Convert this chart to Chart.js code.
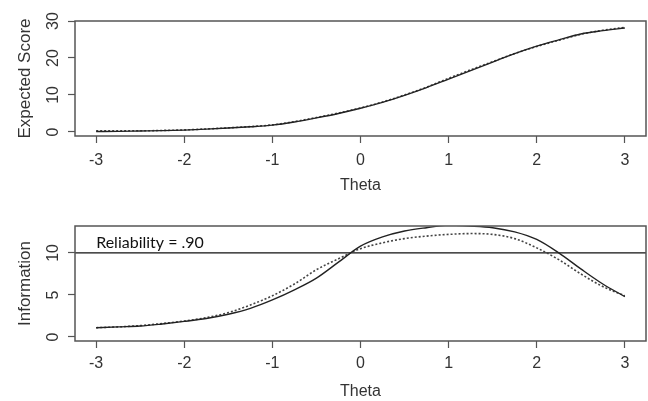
<!DOCTYPE html>
<html>
<head>
<meta charset="utf-8">
<script src="https://cdn.jsdelivr.net/npm/chart.js@4/dist/chart.umd.min.js"></script>
<style>
    html, body { margin: 0; padding: 0; background: #fff; }
    .panel { position: absolute; left: 0; width: 648px; }
    #top { top: 0; height: 200px; }
    #bottom { top: 200px; height: 201px; }
</style>
</head>
<body>
<div class="panel" id="top"><canvas id="scoreChart"></canvas></div>
<div class="panel" id="bottom"><canvas id="infoChart"></canvas></div>
<script>
// theta grid shared by the curves
const theta = [-3, -2.75, -2.5, -2.25, -2, -1.75, -1.5, -1.25, -1, -0.75, -0.5, -0.25, 0,
    0.25, 0.5, 0.75, 1, 1.25, 1.5, 1.75, 2, 2.25, 2.5, 2.75, 3];

// top panel: expected score (solid) and observed score (dotted)
const expectedScore = [0.1, 0.15, 0.25, 0.35, 0.5, 0.75, 1.05, 1.4, 1.85, 2.7, 3.8, 5.0, 6.4,
    8.0, 9.9, 12.0, 14.3, 16.6, 18.9, 21.2, 23.2, 24.9, 26.5, 27.4, 28.1];
const observedScore = [0.3, 0.3, 0.3, 0.4, 0.55, 0.8, 1.1, 1.45, 1.9, 2.8, 3.9, 5.1, 6.5,
    8.1, 10.0, 12.1, 14.5, 16.8, 19.0, 21.2, 23.1, 24.8, 26.4, 27.5, 28.3];

// bottom panel: information curves
const infoSolid = [1.1, 1.2, 1.3, 1.55, 1.85, 2.2, 2.7, 3.4, 4.4, 5.6, 7.0, 8.9, 10.8,
    11.9, 12.6, 13.0, 13.3, 13.2, 13.0, 12.5, 11.6, 10.0, 8.1, 6.3, 4.8];
const infoDotted = [1.1, 1.2, 1.35, 1.6, 1.9, 2.3, 2.9, 3.8, 4.9, 6.3, 8.0, 9.3, 10.5,
    11.2, 11.7, 12.0, 12.2, 12.3, 12.2, 11.7, 10.6, 9.2, 7.5, 6.0, 4.9];

const reliabilityLevel = 10;
const reliabilityText = "Reliability = .90";

const xTicks = [-3, -2, -1, 0, 1, 2, 3];
const scoreTicks = [0, 10, 20, 30];
const infoTicks = [0, 5, 10];
const xRange = [-3.24, 3.24];

const FONT = '"Liberation Sans", Arial, sans-serif';
const INK = "#333";

function points(ys) {
    return theta.map((t, i) => ({ x: t, y: ys[i] }));
}

// R-style frame, rotated y labels and an optional note inside the plot
const rFrame = {
    id: "rFrame",
    afterDraw(chart, args, opts) {
        const { ctx, chartArea: a, scales } = chart;
        ctx.save();
        ctx.strokeStyle = "#555";
        ctx.lineWidth = 1.5;
        ctx.strokeRect(a.left, a.top, a.right - a.left, a.bottom - a.top);

        ctx.fillStyle = INK;
        ctx.font = "16px " + FONT;
        ctx.textAlign = "center";
        ctx.textBaseline = "middle";
        scales.y.ticks.forEach((t) => {
            const y = scales.y.getPixelForValue(t.value);
            ctx.save();
            ctx.translate(a.left - 21, y);
            ctx.rotate(-Math.PI / 2);
            ctx.fillText(String(t.value), 0, 0);
            ctx.restore();
        });

        if (opts.note) {
            ctx.fillStyle = "#111";
            ctx.font = '16px Lato, "Open Sans", sans-serif';
            ctx.textAlign = "left";
            ctx.fillText(opts.note.text, scales.x.getPixelForValue(opts.note.x), scales.y.getPixelForValue(opts.note.y));
        }
        ctx.restore();
    },
};

function xAxis(titlePad, height, tickPad) {
    return {
        type: "linear",
        min: xRange[0],
        max: xRange[1],
        afterBuildTicks: (s) => { s.ticks = xTicks.map((v) => ({ value: v })); },
        afterFit: (s) => { s.height = height; },
        grid: { drawOnChartArea: false, tickLength: 7, tickColor: "#555", tickWidth: 1.2 },
        border: { display: false },
        ticks: { color: INK, font: { family: FONT, size: 16 }, padding: tickPad, maxRotation: 0 },
        title: {
            display: true,
            text: "Theta",
            color: INK,
            font: { family: FONT, size: 16 },
            padding: { top: 0, bottom: titlePad },
        },
    };
}

function yAxis(label, min, max, tickValues) {
    return {
        min: min,
        max: max,
        afterBuildTicks: (s) => { s.ticks = tickValues.map((v) => ({ value: v })); },
        afterFit: (s) => { s.width = 75; },
        grid: { drawOnChartArea: false, tickLength: 7, tickColor: "#555", tickWidth: 1.2 },
        border: { display: false },
        ticks: { display: false },
        title: {
            display: true,
            text: label,
            color: INK,
            font: { family: FONT, size: 17 },
            padding: { top: 15, bottom: 0 },
        },
    };
}

function lineSet(ys, dotted) {
    return {
        data: points(ys),
        borderColor: dotted ? "#444" : "#222",
        borderWidth: dotted ? 1.6 : 1.4,
        borderDash: dotted ? [2, 2] : [],
        pointRadius: 0,
        cubicInterpolationMode: "monotone",
        fill: false,
    };
}

function baseOptions(padTop, x, y, note) {
    return {
        responsive: true,
        maintainAspectRatio: false,
        animation: false,
        layout: { padding: { top: padTop, right: 2, left: 0, bottom: 0 } },
        plugins: { legend: { display: false }, tooltip: { enabled: false }, rFrame: { note: note } },
        scales: { x: x, y: y },
    };
}

new Chart(document.getElementById("scoreChart"), {
    type: "line",
    data: { datasets: [lineSet(expectedScore, false), lineSet(observedScore, true)] },
    options: baseOptions(21, xAxis(5, 64, 8), yAxis("Expected Score", -1.1, 30, scoreTicks), null),
    plugins: [rFrame],
});

new Chart(document.getElementById("infoChart"), {
    type: "line",
    data: {
        datasets: [
            lineSet(infoSolid, false),
            lineSet(infoDotted, true),
            {
                data: [{ x: xRange[0], y: reliabilityLevel }, { x: xRange[1], y: reliabilityLevel }],
                borderColor: "#111",
                borderWidth: 1.2,
                pointRadius: 0,
            },
        ],
    },
    options: baseOptions(26, xAxis(0, 60, 6), yAxis("Information", -0.48, 13.2, infoTicks),
        { text: reliabilityText, x: -3, y: 11.2 }),
    plugins: [rFrame],
});
</script>
</body>
</html>
